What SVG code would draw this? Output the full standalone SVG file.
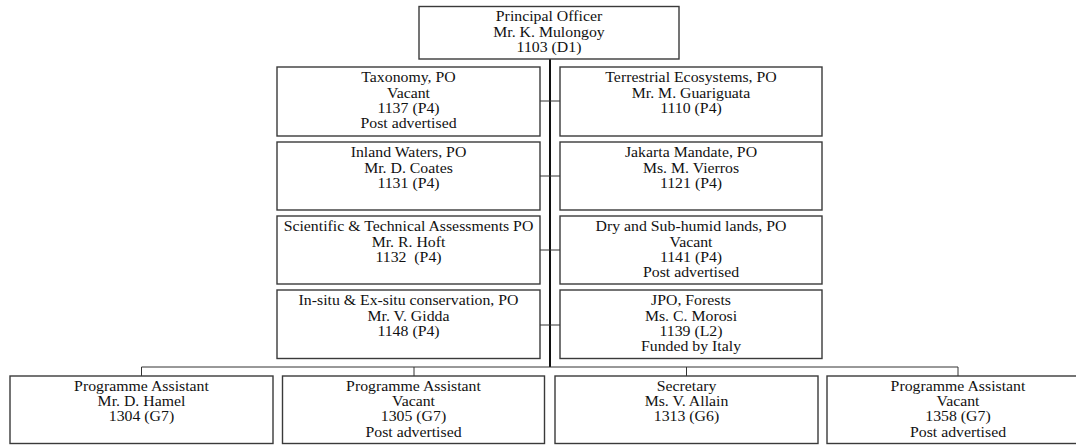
<svg xmlns="http://www.w3.org/2000/svg" width="1076" height="445" viewBox="0 0 1076 445">
<style>
.box{fill:#fff;stroke:#3a3a3a;stroke-width:1.4}
.t{font-family:"Liberation Serif","Times New Roman",serif;font-size:14px;fill:#111;text-anchor:middle}
.c{fill:none;stroke:#333;stroke-width:1}
.trunk{fill:none;stroke:#111;stroke-width:2}
</style>
<rect width="1076" height="445" fill="#fff"/>
<g id="connectors">
<line class="trunk" x1="550" y1="59" x2="550" y2="367"/>
<line class="c" x1="540" y1="101" x2="560" y2="101"/>
<line class="c" x1="540" y1="176" x2="560" y2="176"/>
<line class="c" x1="540" y1="250" x2="560" y2="250"/>
<line class="c" x1="540" y1="325" x2="560" y2="325"/>
<polyline class="c" points="141.5,376 141.5,367 958,367 958,376"/>
<line class="c" x1="414" y1="367" x2="414" y2="376"/>
<line class="c" x1="686.5" y1="367" x2="686.5" y2="376"/>
</g>
<g id="principal">
<rect class="box" x="419" y="6.5" width="260" height="52.5"/>
<g transform="translate(549,0) scale(1.13,1)">
<text class="t" x="0" y="21.5">Principal Officer</text>
<text class="t" x="0" y="36.7">Mr. K. Mulongoy</text>
<text class="t" x="0" y="51.9">1103 (D1)</text>
</g>
</g>
<g id="taxonomy">
<rect class="box" x="277" y="67" width="263" height="69"/>
<g transform="translate(408.5,0) scale(1.13,1)">
<text class="t" x="0" y="82.5">Taxonomy, PO</text>
<text class="t" x="0" y="97.7">Vacant</text>
<text class="t" x="0" y="112.9">1137 (P4)</text>
<text class="t" x="0" y="128.1">Post advertised</text>
</g>
</g>
<g id="terrestrial">
<rect class="box" x="560" y="67" width="262" height="69"/>
<g transform="translate(691,0) scale(1.13,1)">
<text class="t" x="0" y="82.5">Terrestrial Ecosystems, PO</text>
<text class="t" x="0" y="97.7">Mr. M. Guariguata</text>
<text class="t" x="0" y="112.9">1110 (P4)</text>
</g>
</g>
<g id="inland">
<rect class="box" x="277" y="142" width="263" height="68"/>
<g transform="translate(408.5,0) scale(1.13,1)">
<text class="t" x="0" y="157.5">Inland Waters, PO</text>
<text class="t" x="0" y="172.7">Mr. D. Coates</text>
<text class="t" x="0" y="187.9">1131 (P4)</text>
</g>
</g>
<g id="jakarta">
<rect class="box" x="560" y="142" width="262" height="68"/>
<g transform="translate(691,0) scale(1.13,1)">
<text class="t" x="0" y="157.5">Jakarta Mandate, PO</text>
<text class="t" x="0" y="172.7">Ms. M. Vierros</text>
<text class="t" x="0" y="187.9">1121 (P4)</text>
</g>
</g>
<g id="scientific">
<rect class="box" x="277" y="216" width="263" height="68"/>
<g transform="translate(408.5,0) scale(1.13,1)">
<text class="t" x="0" y="231.5">Scientific &amp; Technical Assessments PO</text>
<text class="t" x="0" y="246.7">Mr. R. Hoft</text>
<text class="t" x="0" y="261.9" xml:space="preserve">1132  (P4)</text>
</g>
</g>
<g id="dryland">
<rect class="box" x="560" y="216" width="262" height="68"/>
<g transform="translate(691,0) scale(1.13,1)">
<text class="t" x="0" y="231.5">Dry and Sub-humid lands, PO</text>
<text class="t" x="0" y="246.7">Vacant</text>
<text class="t" x="0" y="261.9">1141 (P4)</text>
<text class="t" x="0" y="277.1">Post advertised</text>
</g>
</g>
<g id="insitu">
<rect class="box" x="277" y="290" width="263" height="68.5"/>
<g transform="translate(408.5,0) scale(1.13,1)">
<text class="t" x="0" y="305.5">In-situ &amp; Ex-situ conservation, PO</text>
<text class="t" x="0" y="320.7">Mr. V. Gidda</text>
<text class="t" x="0" y="335.9">1148 (P4)</text>
</g>
</g>
<g id="jpo">
<rect class="box" x="560" y="290" width="262" height="68.5"/>
<g transform="translate(691,0) scale(1.13,1)">
<text class="t" x="0" y="305.5">JPO, Forests</text>
<text class="t" x="0" y="320.7">Ms. C. Morosi</text>
<text class="t" x="0" y="335.9">1139 (L2)</text>
<text class="t" x="0" y="351.1">Funded by Italy</text>
</g>
</g>
<g id="pa1">
<rect class="box" x="10" y="376" width="263" height="67.5"/>
<g transform="translate(141.5,0) scale(1.13,1)">
<text class="t" x="0" y="391">Programme Assistant</text>
<text class="t" x="0" y="406.2">Mr. D. Hamel</text>
<text class="t" x="0" y="421.4">1304 (G7)</text>
</g>
</g>
<g id="pa2">
<rect class="box" x="282.5" y="376" width="262" height="67.5"/>
<g transform="translate(413.5,0) scale(1.13,1)">
<text class="t" x="0" y="391">Programme Assistant</text>
<text class="t" x="0" y="406.2">Vacant</text>
<text class="t" x="0" y="421.4">1305 (G7)</text>
<text class="t" x="0" y="436.6">Post advertised</text>
</g>
</g>
<g id="secretary">
<rect class="box" x="555" y="376" width="263" height="67.5"/>
<g transform="translate(686.5,0) scale(1.13,1)">
<text class="t" x="0" y="391">Secretary</text>
<text class="t" x="0" y="406.2">Ms. V. Allain</text>
<text class="t" x="0" y="421.4">1313 (G6)</text>
</g>
</g>
<g id="pa3">
<rect class="box" x="827" y="376" width="263" height="67.5"/>
<g transform="translate(958,0) scale(1.13,1)">
<text class="t" x="0" y="391">Programme Assistant</text>
<text class="t" x="0" y="406.2">Vacant</text>
<text class="t" x="0" y="421.4">1358 (G7)</text>
<text class="t" x="0" y="436.6">Post advertised</text>
</g>
</g>
</svg>
